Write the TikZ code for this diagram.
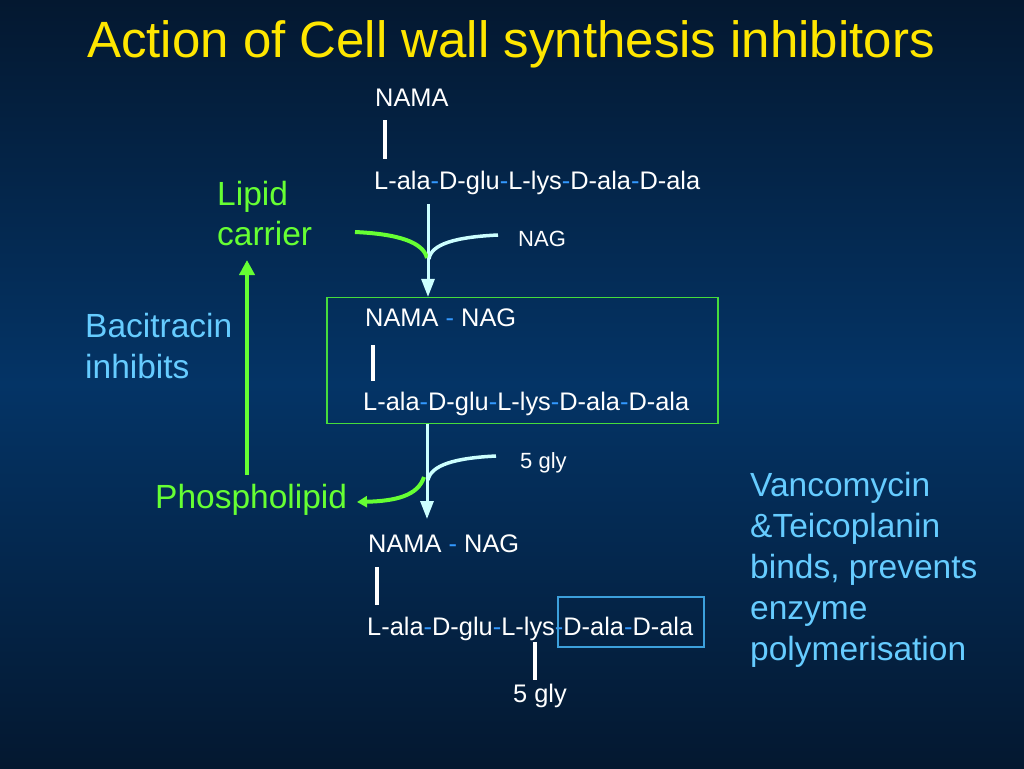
\documentclass[tikz,border=0pt]{standalone}
\usepackage{fontspec}
\setmainfont{Liberation Sans}
\usetikzlibrary{arrows.meta}
\definecolor{bgtop}{RGB}{4,24,48}
\definecolor{bgmid}{RGB}{4,52,102}
\definecolor{titleyellow}{RGB}{255,230,0}
\definecolor{limegreen}{RGB}{102,255,51}
\definecolor{skyblue}{RGB}{102,204,255}
\definecolor{sepblue}{RGB}{51,153,255}
\definecolor{paleflow}{RGB}{204,255,255}
\definecolor{boxgreen}{RGB}{70,220,60}
\definecolor{boxblue}{RGB}{60,160,220}
\newcommand\sepdash{\textcolor{sepblue}{-}}
\newcommand\chain{L-ala\sepdash D-glu\sepdash L-lys\sepdash D-ala\sepdash D-ala}
\tikzset{
  lbl/.style={anchor=base west, inner sep=0pt, text=white, font=\fontsize{25.4}{30}\selectfont},
  smalllbl/.style={anchor=base west, inner sep=0pt, text=white, font=\fontsize{22}{26}\selectfont},
  greenlbl/.style={anchor=base west, inner sep=0pt, text=limegreen, font=\fontsize{33.5}{40.5}\selectfont},
  bluelbl/.style={anchor=base west, inner sep=0pt, text=skyblue, font=\fontsize{33.5}{41}\selectfont},
  bond/.style={draw=white, line width=3.5pt},
  flow/.style={draw=paleflow, line width=3pt, -{Triangle[length=18pt,width=13pt]}},
  flowcurve/.style={draw=paleflow, line width=3.5pt},
  greencurve/.style={draw=limegreen, line width=4pt},
}
\begin{document}
\begin{tikzpicture}[x=1pt,y=-1pt]
\shade[top color=bgtop, bottom color=bgmid] (0,0) rectangle (1024,384);
\shade[top color=bgmid, bottom color=bgtop] (0,384) rectangle (1024,768);
\useasboundingbox (0,0) rectangle (1024,768);

% title
\node[anchor=base, inner sep=0pt, text=titleyellow, font=\fontsize{51}{60}\selectfont] (title) at (511,57) {Action of Cell wall synthesis inhibitors};

% top chain
\node[lbl] (nama1) at (375,106) {NAMA};
\coordinate (b1t) at (385,120);
\coordinate (b1b) at (385,159);
\draw[bond] (b1t) -- (b1b);
\node[lbl] (chain1) at (374,189) {\chain};
\node[smalllbl] (nag) at (518,246) {NAG};

% middle box
\node[draw=boxgreen, line width=1.2pt, minimum width=391pt, minimum height=126pt, inner sep=0pt] (box) at (522.5,360.5) {};
\node[lbl] (nama2) at (365,326) {NAMA \sepdash{} NAG};
\coordinate (b2t) at (373,345);
\coordinate (b2b) at (373,381);
\draw[bond] (b2t) -- (b2b);
\node[lbl] (chain2) at (363,410) {\chain};

% first flow
\coordinate (f1s) at (428,204);
\draw[flow] (f1s) -- (f1s |- box.north);
\coordinate (g1s) at (355,232);
\coordinate (j1) at (427,258);
\coordinate (w1s) at (498,235);
\draw[greencurve] (g1s) .. controls (398,234) and (423,242) .. (j1);
\draw[flowcurve] (w1s) .. controls (456,237) and (431,244) .. (429,259);

% second flow
\coordinate (f2s) at (427,423.5);
\coordinate (f2e) at (427,519);
\draw[flow] (f2s) -- (f2e);
\coordinate (w2s) at (496,456);
\coordinate (j2) at (428,480);
\draw[flowcurve] (w2s) .. controls (455,458) and (431,465) .. (j2);
\node[smalllbl] (gly1) at (520,468) {5 gly};

% left labels
\node[greenlbl] (lipid1) at (217,205) {Lipid};
\node[greenlbl] (lipid2) at (217,245) {carrier};
\node[greenlbl] (phospho) at (155,508) {Phospholipid};
\node[bluelbl] (baci1) at (85,337) {Bacitracin};
\node[bluelbl] (baci2) at (85,378) {inhibits};
\coordinate (ga) at (247,475);
\coordinate (gb) at (247,260);
\draw[greencurve, -{Triangle[length=15pt,width=15pt]}] (ga) -- (gb);
\coordinate (g2s) at (424,477);
\coordinate (ptip) at (357,502);
\draw[greencurve, -{Triangle[length=10pt,width=11pt]}] (g2s) .. controls (418,496) and (395,501) .. (ptip);

% bottom chain
\node[lbl] (nama3) at (368,552) {NAMA \sepdash{} NAG};
\coordinate (b3t) at (377,567);
\coordinate (b3b) at (377,605);
\draw[bond] (b3t) -- (b3b);
\node[lbl] (chain3) at (367,635) {\chain};
\node[draw=boxblue, line width=1.2pt, minimum width=146pt, minimum height=50pt, inner sep=0pt] (vbox) at (631,622) {};
\coordinate (b4t) at (535,642);
\coordinate (b4b) at (535,680);
\draw[bond] (b4t) -- (b4b);
\node[lbl] (gly2) at (513,702) {5 gly};

% right label
\node[bluelbl] (vanco1) at (750,496) {Vancomycin};
\node[bluelbl] (vanco2) at (750,537) {\&Teicoplanin};
\node[bluelbl] (vanco3) at (750,578) {binds, prevents};
\node[bluelbl] (vanco4) at (750,619) {enzyme};
\node[bluelbl] (vanco5) at (750,660) {polymerisation};
\end{tikzpicture}
\end{document}
